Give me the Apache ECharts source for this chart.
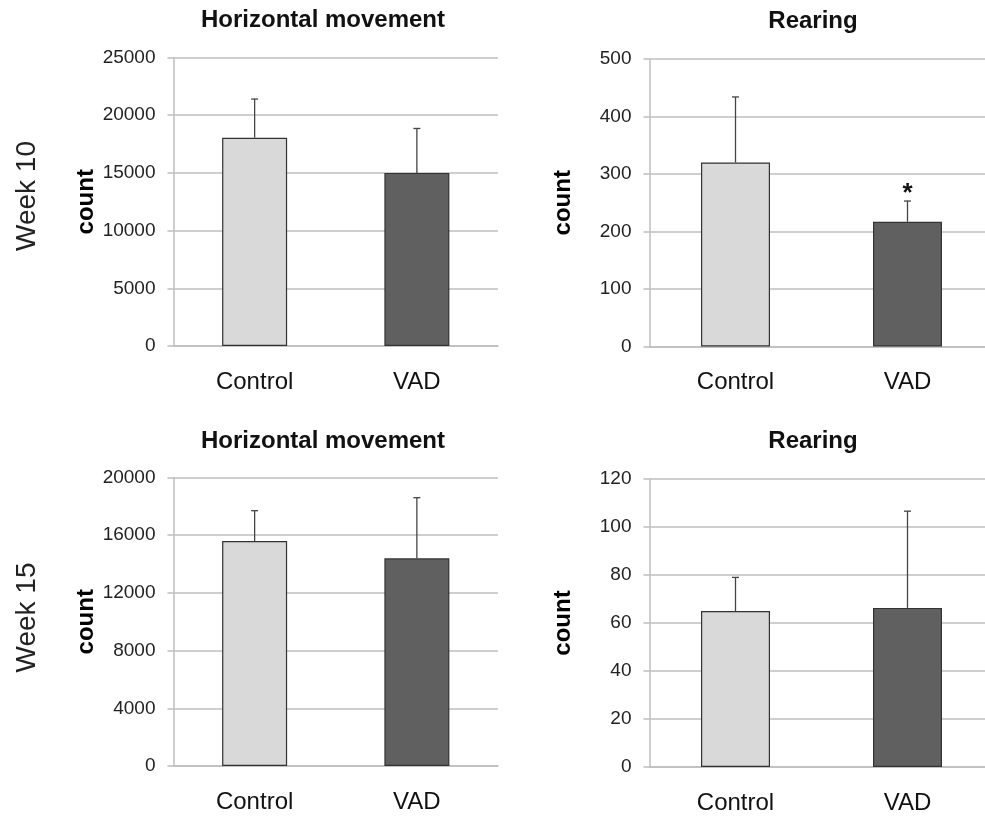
<!DOCTYPE html>
<html>
<head>
<meta charset="utf-8">
<script src="https://cdn.jsdelivr.net/npm/echarts@6/dist/echarts.min.js"></script>
<style>
html,body{margin:0;padding:0;background:#fff;overflow:hidden;}
#chart{width:1000px;height:818px;}
</style>
</head>
<body>
<div id="chart"></div>
<script>
// ---- data ----
const categories = ['Control', 'VAD'];
const panelTitles = ['Horizontal movement', 'Rearing', 'Horizontal movement', 'Rearing'];
const rowLabels = ['Week 10', 'Week 15'];
const yAxisName = 'count';

const hm10Mean = [18050, 15000];
const hm10Err = [3350, 3850];
const rear10Mean = [320, 217];
const rear10Err = [114, 36];
const hm15Mean = [15600, 14400];
const hm15Err = [2100, 4200];
const rear15Mean = [65, 66.3];
const rear15Err = [14, 40.3];

const rear10Sig = ['', '*'];
const noSig = ['', ''];

const yMax = [25000, 500, 20000, 120];
const yInterval = [5000, 100, 4000, 20];

// ---- layout / style ----
const FONT = '"Liberation Sans", Arial, Helvetica, sans-serif';
const barColors = ['#d9d9d9', '#606060'];
const gridColor = '#bfbfbf';

const grids = [
  {left: 173.5, width: 324.5, top: 57.5, height: 288.5},
  {left: 649.5, width: 344, top: 59, height: 287.5},
  {left: 173.5, width: 324.5, top: 477.5, height: 288.5},
  {left: 649.5, width: 344, top: 479, height: 288}
];
const barWidths = [65, 69, 65, 69];
const titlePos = [[323, 8], [813, 9], [323, 429], [813, 429]];

const panels = [
  {mean: hm10Mean, err: hm10Err, sig: noSig},
  {mean: rear10Mean, err: rear10Err, sig: rear10Sig},
  {mean: hm15Mean, err: hm15Err, sig: noSig},
  {mean: rear15Mean, err: rear15Err, sig: noSig}
];

const xAxes = [], yAxes = [], series = [], titles = [];
panels.forEach((p, i) => {
  titles.push({
    text: panelTitles[i], left: titlePos[i][0], top: titlePos[i][1], textAlign: 'center', padding: 0,
    textStyle: {fontFamily: FONT, fontWeight: 'bold', fontSize: 24, color: '#111'}
  });
  xAxes.push({
    gridIndex: i, type: 'category', data: categories,
    axisTick: {show: false},
    axisLine: {show: true, lineStyle: {color: gridColor, width: 1.5}},
    axisLabel: {fontFamily: FONT, fontSize: 24, color: '#111', margin: 24}
  });
  yAxes.push({
    gridIndex: i, type: 'value', min: 0, max: yMax[i], interval: yInterval[i],
    name: yAxisName, nameLocation: 'middle', nameRotate: 90, nameGap: 74,
    nameTextStyle: {fontFamily: FONT, fontWeight: 'bold', fontSize: 24, color: '#000'},
    axisLine: {show: true, lineStyle: {color: gridColor, width: 1.5}},
    axisTick: {show: true, length: 6, lineStyle: {color: gridColor, width: 1.5}},
    splitLine: {show: true, lineStyle: {color: gridColor, width: 1.5}},
    axisLabel: {fontFamily: FONT, fontSize: 19, color: '#222', margin: 18, formatter: v => String(v)}
  });
  series.push({
    type: 'bar', xAxisIndex: i, yAxisIndex: i, barWidth: barWidths[i],
    data: p.mean.map((v, k) => ({value: v, itemStyle: {color: barColors[k]}})),
    itemStyle: {borderColor: '#333', borderWidth: 1.2},
    silent: true, z: 2
  });
  series.push({
    type: 'custom', xAxisIndex: i, yAxisIndex: i, z: 3, silent: true,
    data: p.mean.map((v, k) => [k, v, p.err[k]]),
    renderItem: function (params, api) {
      const k = api.value(0), m = api.value(1), e = api.value(2);
      const a = api.coord([k, m]);
      const b = api.coord([k, m + e]);
      const st = {stroke: '#444', lineWidth: 1.3};
      const children = [
        {type: 'line', shape: {x1: a[0], y1: a[1], x2: b[0], y2: b[1]}, style: st},
        {type: 'line', shape: {x1: b[0] - 3.5, y1: b[1], x2: b[0] + 3.5, y2: b[1]}, style: st}
      ];
      const s = p.sig[params.dataIndex];
      if (s) {
        children.push({type: 'text', x: b[0], y: b[1] - 7,
          style: {text: s, fontFamily: FONT, fontWeight: 'bold', fontSize: 26, fill: '#111', align: 'center', verticalAlign: 'middle'}});
      }
      return {type: 'group', children: children};
    }
  });
});

const chart = echarts.init(document.getElementById('chart'), null, {renderer: 'canvas'});
chart.setOption({
  animation: false,
  backgroundColor: '#fff',
  title: titles,
  grid: grids,
  xAxis: xAxes,
  yAxis: yAxes,
  series: series,
  graphic: [
    {type: 'text', x: 27.5, y: 196, rotation: Math.PI / 2,
     style: {text: rowLabels[0], fontFamily: FONT, fontSize: 28, fill: '#222', align: 'center', verticalAlign: 'middle'}},
    {type: 'text', x: 27.5, y: 617.5, rotation: Math.PI / 2,
     style: {text: rowLabels[1], fontFamily: FONT, fontSize: 28, fill: '#222', align: 'center', verticalAlign: 'middle'}}
  ]
});
</script>
</body>
</html>
